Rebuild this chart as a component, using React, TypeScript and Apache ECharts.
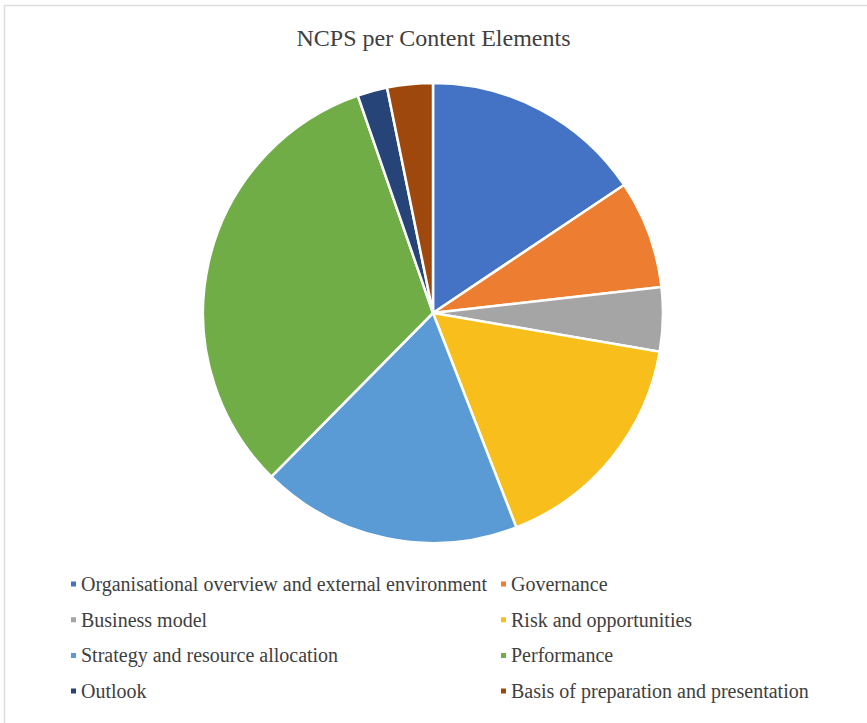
import React, { useEffect, useRef } from "react";
import * as echarts from "echarts";

const categories = [
  "Organisational overview and external environment",
  "Governance",
  "Business model",
  "Risk and opportunities",
  "Strategy and resource allocation",
  "Performance",
  "Outlook",
  "Basis of preparation and presentation",
];
const values = [15.6, 7.6, 4.5, 16.4, 18.3, 32.3, 2.1, 3.2];
const colors = ["#4472C4", "#ED7D31", "#A5A5A5", "#F7BE1C", "#5B9BD5", "#70AD47", "#264478", "#9E480E"];

export default function App() {
  const ref = useRef<HTMLDivElement>(null);
  useEffect(() => {
    const chart = echarts.init(ref.current!, null, { renderer: "svg" });
    const font = "'Liberation Serif', 'Times New Roman', serif";
    const legendCommon = {
      orient: "vertical" as const,
      top: 569,
      icon: "rect",
      itemWidth: 7,
      itemHeight: 7,
      itemGap: 15.7,
      textStyle: { fontFamily: font, fontSize: 20, lineHeight: 20, color: "#404040", padding: [0, 0, 0, -1] },
      selectedMode: false,
    };
    chart.setOption({
      animation: false,
      backgroundColor: "#ffffff",
      title: {
        text: "NCPS per Content Elements",
        left: "center",
        top: 21,
        textStyle: { fontFamily: font, fontSize: 24, fontWeight: "normal", color: "#404040" },
      },
      graphic: [
        {
          type: "rect",
          shape: { x: 4.5, y: 5.5, width: 900, height: 800 },
          style: { fill: "none", stroke: "#dddddd", lineWidth: 1.5 },
          silent: true,
        },
      ],
      legend: [
        { ...legendCommon, left: 64, data: [categories[0], categories[2], categories[4], categories[6]] },
        { ...legendCommon, left: 494, data: [categories[1], categories[3], categories[5], categories[7]] },
      ],
      series: [
        {
          type: "pie",
          center: [433, 313],
          radius: [0, 230],
          startAngle: 90,
          clockwise: true,
          label: { show: false },
          labelLine: { show: false },
          itemStyle: { borderColor: "#ffffff", borderWidth: 2.5 },
          emphasis: { disabled: true },
          data: categories.map((c, i) => ({ name: c, value: values[i], itemStyle: { color: colors[i] } })),
        },
      ],
    });
    return () => chart.dispose();
  }, []);
  return (
    <div
      ref={ref}
      style={{ position: "absolute", left: 0, top: 0, width: 867, height: 723 }}
    />
  );
}
